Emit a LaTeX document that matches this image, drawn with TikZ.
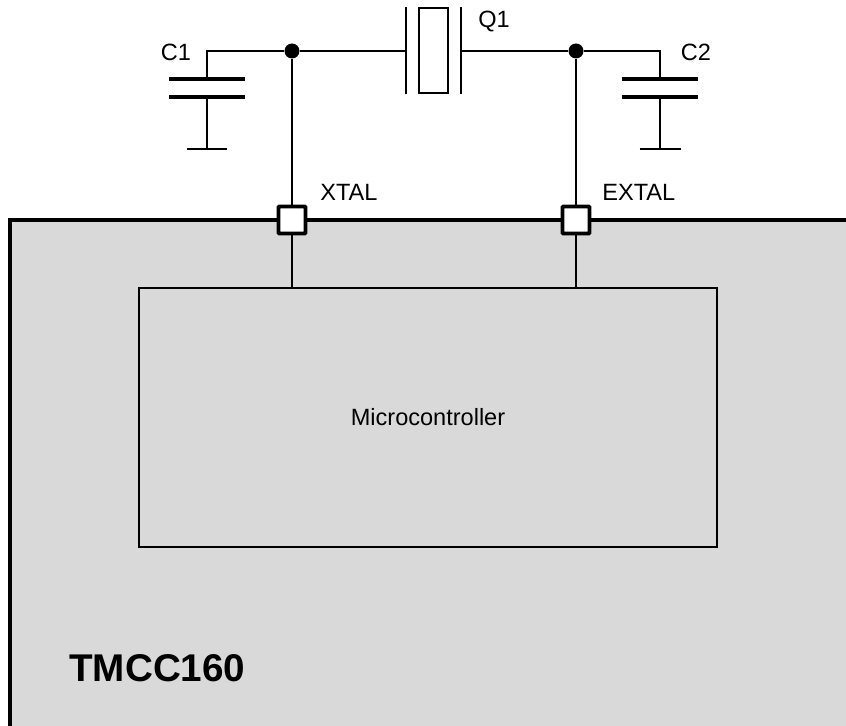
\documentclass[tikz,border=0pt]{standalone}
\usepackage{fontspec}
\setmainfont{Liberation Sans}
\definecolor{chipgray}{RGB}{217,217,217}
\begin{document}
\begin{tikzpicture}[x=0.02cm, y=-0.02cm,
  wire/.style={line width=1.1pt},
  plate/.style={line width=2.3pt},
  pinbox/.style={draw, fill=white, line width=2.2pt, minimum size=0.54cm, inner sep=0pt, rounded corners=0.5pt},
  lbl/.style={font=\fontsize{13.4}{16}\selectfont, inner sep=0pt},
  dot/.style={circle, fill, inner sep=0pt, minimum size=0.3cm}]

  \useasboundingbox (0,0) rectangle (846,726);

  %chip
  \draw[fill=chipgray, line width=2.3pt] (10,220) rectangle (852,728.5);
  \node[draw, fill=chipgray, line width=1.1pt, minimum width=11.56cm, minimum height=5.18cm, lbl] (mcu) at (428,417.5) {Microcontroller};
  \node[font=\bfseries\fontsize{22}{26}\selectfont, anchor=west, inner sep=0pt] (chipname) at (69,668) {TMCC160};

  %pins
  \foreach \x/\name/\txt/\lx in {292/xtal/XTAL/320, 576/extal/EXTAL/602}{
    \node[pinbox] (\name) at (\x,220) {};
    \node[lbl, anchor=west] (\name-lbl) at (\lx,192) {\txt};
  }

  %junctions
  \node[dot] (jx) at (292,51) {};
  \node[dot] (je) at (576,51) {};
  \draw[wire] (jx) -- (xtal);
  \draw[wire] (je) -- (extal);
  \draw[wire] (xtal) -- (xtal |- mcu.north);
  \draw[wire] (extal) -- (extal |- mcu.north);

  %crystal
  \node[draw, line width=1.1pt, minimum width=0.58cm, minimum height=1.7cm, inner sep=0pt] (q1) at (433.5,50.5) {};
  \coordinate (qa) at (406,51);
  \coordinate (qb) at (461,51);
  \draw[wire] (406,7) -- (406,94);
  \draw[wire] (461,7) -- (461,94);
  \draw[wire] (jx) -- (qa);
  \draw[wire] (qb) -- (je);
  \node[lbl] (q1-lbl) at (494,22) {Q1};

  %capacitors
  \foreach \x/\name/\jn/\txt/\lx in {207/c1/jx/C1/176, 660/c2/je/C2/696}{
    \coordinate (\name-top) at (\x,79);
    \coordinate (\name-bot) at (\x,97);
    \coordinate (\name-gnd) at (\x,149);
    \draw[wire] (\jn) -| (\name-top);
    \draw[plate] ([xshift=-0.77cm]\name-top) -- ([xshift=0.77cm]\name-top);
    \draw[plate] ([xshift=-0.77cm]\name-bot) -- ([xshift=0.77cm]\name-bot);
    \draw[wire] (\name-bot) -- (\name-gnd);
    \draw[wire] ([xshift=-0.41cm]\name-gnd) -- ([xshift=0.41cm]\name-gnd);
    \node[lbl] (\name-lbl) at (\lx,52) {\txt};
  }

\end{tikzpicture}
\end{document}
